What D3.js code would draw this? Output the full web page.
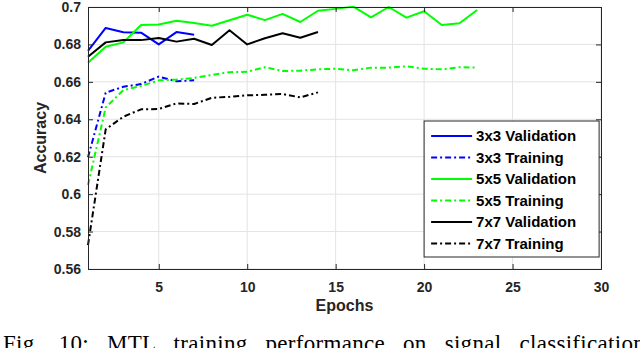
<!DOCTYPE html>
<html>
<head>
<meta charset="utf-8">
<script src="https://cdn.jsdelivr.net/npm/d3@7"></script>
<style>
  body { margin: 0; background: #fff; }
  svg { display: block; }
</style>
</head>
<body>
<script>
// epochs for each run
var epochs3 = [1, 2, 3, 4, 5, 6, 7]
var epochs5 = [1, 2, 3, 4, 5, 6, 7, 8, 9, 10, 11, 12, 13, 14, 15, 16, 17, 18, 19, 20, 21, 22, 23]
var epochs7 = [1, 2, 3, 4, 5, 6, 7, 8, 9, 10, 11, 12, 13, 14]

// accuracy values
var val3 = [0.6766, 0.6888, 0.6865, 0.6863, 0.6800, 0.6866, 0.6852]
var train3 = [0.6197, 0.6542, 0.6574, 0.6588, 0.6628, 0.6603, 0.6608]
var val5 = [0.6702, 0.6788, 0.6811, 0.6904, 0.6907, 0.6927, 0.6915, 0.6900, 0.6929, 0.6959, 0.6930,
            0.6963, 0.6920, 0.6980, 0.6990, 0.7002, 0.6945, 0.7000, 0.6943, 0.6977, 0.6904, 0.6913, 0.6984]
var train5 = [0.6049, 0.6463, 0.6556, 0.6578, 0.6608, 0.6612, 0.6621, 0.6637, 0.6652, 0.6654, 0.6678,
              0.6658, 0.6660, 0.6667, 0.6670, 0.6662, 0.6676, 0.6676, 0.6683, 0.6670, 0.6667, 0.6678, 0.6676]
var val7 = [0.6734, 0.6811, 0.6824, 0.6823, 0.6834, 0.6815, 0.6830, 0.6797, 0.6876, 0.6800, 0.6833,
            0.6860, 0.6836, 0.6866]
var train7 = [0.5728, 0.6346, 0.6414, 0.6453, 0.6455, 0.6485, 0.6482, 0.6515, 0.6520, 0.6528, 0.6531,
              0.6535, 0.6517, 0.6544]

var seriesNames = ["3x3 Validation", "3x3 Training", "5x5 Validation", "5x5 Training", "7x7 Validation", "7x7 Training"]
var xTicks = [5, 10, 15, 20, 25, 30]
var yTicks = [0.56, 0.58, 0.6, 0.62, 0.64, 0.66, 0.68, 0.7]
var caption = "Fig. 10: MTL training performance on signal classification"

var width = 640
var height = 348
var margin = {top: 7, right: 39, bottom: 79, left: 88}
var w = width - margin.left - margin.right
var h = height - margin.top - margin.bottom

var series = [
  {name: seriesNames[0], x: epochs3, y: val3, color: "#0000ff", dash: null},
  {name: seriesNames[1], x: epochs3, y: train3, color: "#0000ff", dash: "6,3,2,3"},
  {name: seriesNames[2], x: epochs5, y: val5, color: "#00ff00", dash: null},
  {name: seriesNames[3], x: epochs5, y: train5, color: "#00ff00", dash: "6,3,2,3"},
  {name: seriesNames[4], x: epochs7, y: val7, color: "#000000", dash: null},
  {name: seriesNames[5], x: epochs7, y: train7, color: "#000000", dash: "6,3,2,3"}
]

var svg = d3.select("body").append("svg")
    .attr("width", width)
    .attr("height", height)

var g = svg.append("g")
    .attr("transform", "translate(" + margin.left + "," + margin.top + ")")

var x_scale = d3.scaleLinear().domain([1, 30]).range([0, w])
var y_scale = d3.scaleLinear().domain([0.56, 0.7]).range([h, 0])

var axisColor = "#262626"
var font = "'Liberation Sans', Arial, Helvetica, sans-serif"

// grid
g.append("g").selectAll("line").data(xTicks).enter().append("line")
    .attr("x1", d => x_scale(d)).attr("x2", d => x_scale(d))
    .attr("y1", 0).attr("y2", h)
    .attr("stroke", "#e3e3e3").attr("stroke-width", 1)
g.append("g").selectAll("line").data(yTicks).enter().append("line")
    .attr("x1", 0).attr("x2", w)
    .attr("y1", d => y_scale(d)).attr("y2", d => y_scale(d))
    .attr("stroke", "#e3e3e3").attr("stroke-width", 1)

// lines
var line = d3.line()
series.forEach(function(s) {
  var pts = s.x.map((e, i) => [x_scale(e), y_scale(s.y[i])])
  g.append("path")
    .attr("d", line(pts))
    .attr("fill", "none")
    .attr("stroke", s.color)
    .attr("stroke-width", 2)
    .attr("stroke-linejoin", "round")
    .attr("stroke-dasharray", s.dash)
})

// axes (ticks inward, box around)
var xAxis = d3.axisBottom(x_scale).tickValues(xTicks).tickSize(-5).tickPadding(13).tickFormat(d3.format("d"))
var yAxis = d3.axisLeft(y_scale).tickValues(yTicks).tickSize(-5).tickPadding(7).tickFormat(d => d3.format("")(+d.toFixed(2)))

var xa = g.append("g").attr("transform", "translate(0," + h + ")").call(xAxis)
var ya = g.append("g").call(yAxis)
g.append("g").call(d3.axisTop(x_scale).tickValues(xTicks).tickSize(-5).tickFormat(""))
g.append("g").attr("transform", "translate(" + w + ",0)")
    .call(d3.axisRight(y_scale).tickValues(yTicks).tickSize(-5).tickFormat(""))

g.selectAll(".domain").attr("stroke", axisColor).attr("stroke-width", 1)
g.selectAll(".tick line").attr("stroke", axisColor)
g.selectAll(".tick text")
    .attr("fill", axisColor)
    .style("font-family", font)
    .style("font-size", "14px")
    .style("font-weight", "bold")

// axis labels
svg.append("text")
    .attr("x", margin.left + w / 2)
    .attr("y", 311)
    .attr("text-anchor", "middle")
    .attr("fill", axisColor)
    .style("font-family", font)
    .style("font-size", "16px")
    .style("font-weight", "bold")
    .text("Epochs")

svg.append("text")
    .attr("transform", "translate(46," + (margin.top + h / 2) + ") rotate(-90)")
    .attr("text-anchor", "middle")
    .attr("fill", axisColor)
    .style("font-family", font)
    .style("font-size", "16px")
    .style("font-weight", "bold")
    .text("Accuracy")

// legend
var lx = x_scale(20), ly = 121 - margin.top
var legend = g.append("g").attr("transform", "translate(" + lx + "," + ly + ")")
legend.append("rect")
    .attr("x", 0).attr("y", 0)
    .attr("width", 175).attr("height", 136)
    .attr("fill", "#fff").attr("stroke", axisColor).attr("stroke-width", 1)

series.forEach(function(s, i) {
  var yy = 15 + i * 21.5
  legend.append("line")
    .attr("x1", 7).attr("x2", 48)
    .attr("y1", yy).attr("y2", yy)
    .attr("stroke", s.color).attr("stroke-width", 2)
    .attr("stroke-dasharray", s.dash)
  legend.append("text")
    .attr("x", 52).attr("y", yy)
    .attr("dy", "0.36em")
    .attr("fill", "#000")
    .style("font-family", font)
    .style("font-size", "15px")
    .style("font-weight", "bold")
    .text(s.name)
})

// caption (justified line, runs off the right edge like the source)
var cap = svg.append("text")
    .attr("x", 3)
    .attr("y", 351)
    .attr("fill", "#000")
    .style("font-family", "'Liberation Serif', 'Times New Roman', serif")
    .style("font-size", "23px")
    .style("letter-spacing", "0.3px")
    .text(caption)
var natural = cap.node().getComputedTextLength()
var spaces = caption.split(" ").length - 1
cap.style("word-spacing", Math.max(0, (642 - natural) / spaces) + "px")
</script>
</body>
</html>
